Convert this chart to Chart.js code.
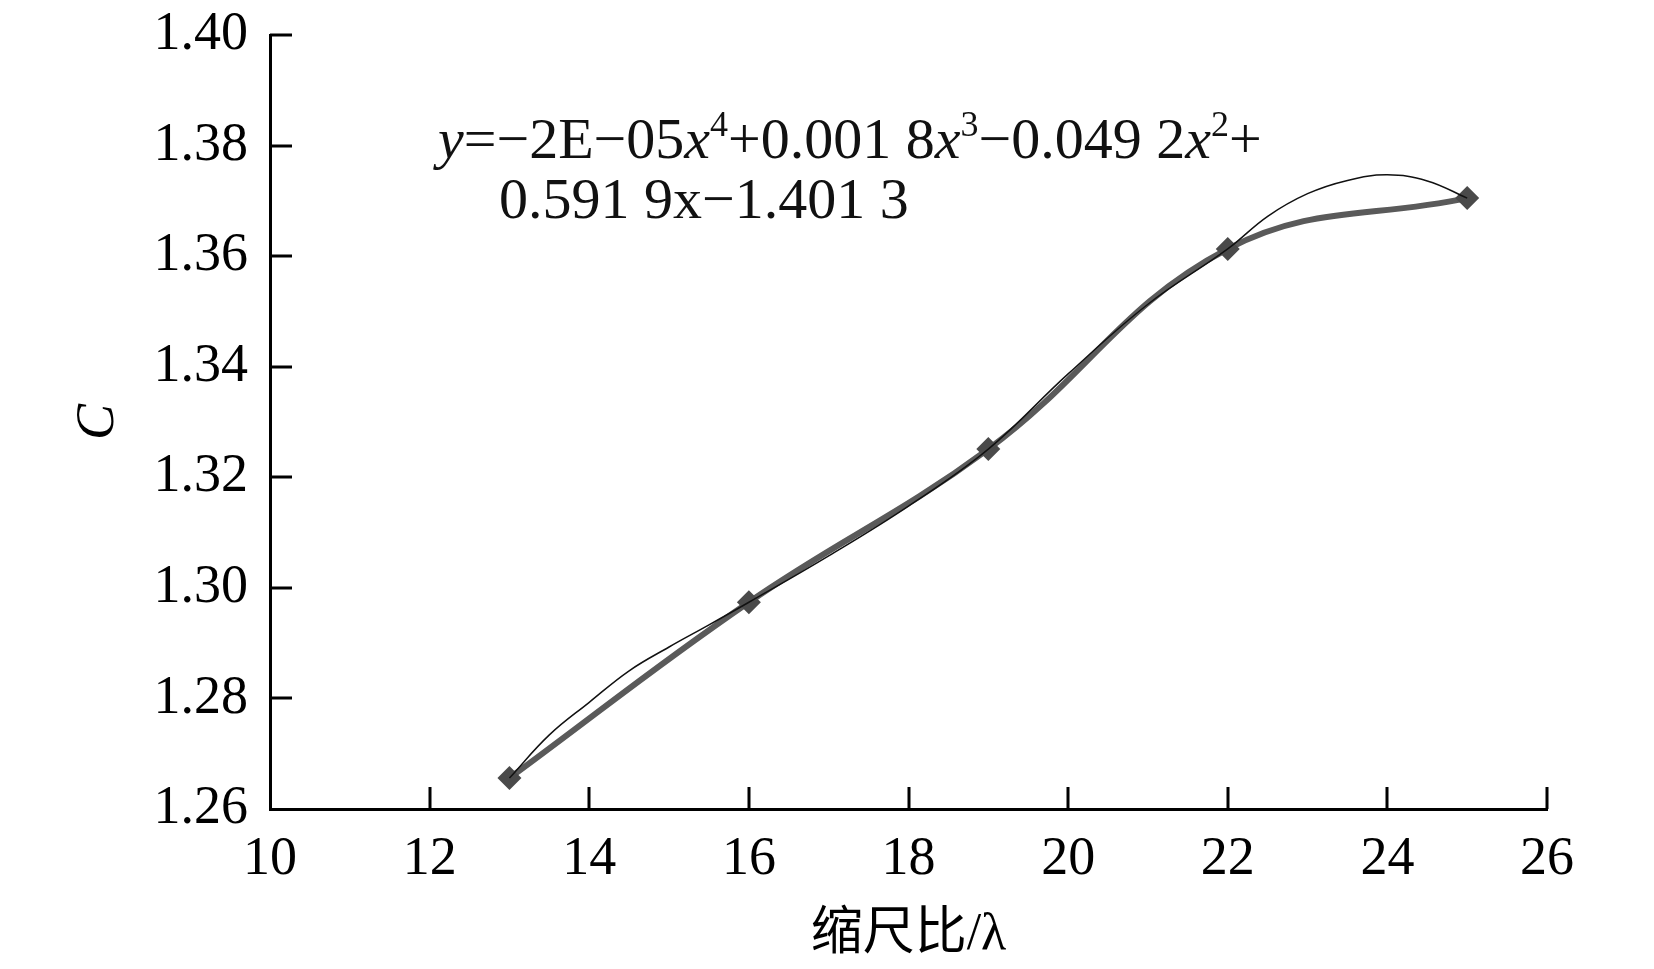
<!doctype html>
<html>

<head>
    <title>C vs scale ratio</title>
    <script src="https://cdn.jsdelivr.net/npm/chart.js@4/dist/chart.umd.min.js"></script>
    <style>
    body {
        margin: 0;
        background: #fff;
    }
    canvas {
        display: block;
    }
    </style>
</head>

<body>
    <canvas id="canvas" width="1654" height="969"></canvas>

    <script>
        // measured points
        var lambdaValues = [13, 16, 19, 22, 25];
        var cValues = [1.2656, 1.2974, 1.3251, 1.3613, 1.3705];

        // 4th order trend line
        var trendLambda = [13, 13.5, 14, 14.5, 15, 15.5, 16, 17, 18, 19, 20, 21, 22, 22.5, 23, 23.5, 24, 24.5, 25];
        var trendC = [1.2656, 1.2734, 1.2793, 1.2850, 1.2893, 1.2933, 1.2974, 1.3058, 1.3148, 1.3251, 1.3387, 1.3513, 1.3613, 1.3672, 1.3713, 1.3737, 1.3747, 1.3736, 1.3705];

        var xTicks = [10, 12, 14, 16, 18, 20, 22, 24, 26];
        var yTicks = [1.26, 1.28, 1.30, 1.32, 1.34, 1.36, 1.38, 1.40];

        var serif = "'Liberation Serif', 'Times New Roman', 'Noto Sans CJK SC', serif";

        function pairs(xs, ys) {
            return xs.map(function(x, i) { return {x: x, y: ys[i]}; });
        }

        // ticks point inward, drawn off the scales
        var inwardTicks = {
            id: 'inwardTicks',
            afterDatasetsDraw: function(chart) {
                var ctx = chart.ctx;
                var xs = chart.scales.x, ys = chart.scales.y;
                var area = chart.chartArea;
                ctx.save();
                ctx.strokeStyle = '#000';
                ctx.lineWidth = 3;
                ctx.beginPath();
                xs.ticks.forEach(function(t, i) {
                    var px = Math.round(xs.getPixelForTick(i));
                    if (i === 0) return;
                    ctx.moveTo(px, area.bottom);
                    ctx.lineTo(px, area.bottom - 22);
                });
                ys.ticks.forEach(function(t, i) {
                    var py = Math.round(ys.getPixelForTick(i));
                    if (i === 0) return;
                    ctx.moveTo(area.left, py);
                    ctx.lineTo(area.left + 22, py);
                });
                ctx.stroke();
                ctx.restore();
            }
        };

        // fitted equation text
        var equation = {
            id: 'equation',
            afterDraw: function(chart) {
                var ctx = chart.ctx;
                var area = chart.chartArea;
                var big = "58px " + serif;
                var bigI = "italic 58px " + serif;
                var sup = "36px " + serif;
                var line1 = [
                    ['y', bigI, 0], ['=\u2212', big, 0], ['2E\u221205', big, 0],
                    ['x', bigI, 0], ['4', sup, -22], ['+0.001 8', big, 0],
                    ['x', bigI, 0], ['3', sup, -22], ['\u22120.049 2', big, 0],
                    ['x', bigI, 0], ['2', sup, -22], ['+', big, 0]
                ];
                ctx.save();
                ctx.fillStyle = '#111';
                ctx.textBaseline = 'alphabetic';
                var x = area.left + 168;
                var y = area.top + 123;
                line1.forEach(function(s) {
                    ctx.font = s[1];
                    ctx.fillText(s[0], x, y + s[2]);
                    x += ctx.measureText(s[0]).width;
                });
                ctx.font = big;
                ctx.fillText('0.591 9x\u22121.401 3', area.left + 229, area.top + 183);
                ctx.restore();
            }
        };

        window.onload = function() {
            var ctx = document.getElementById('canvas').getContext('2d');
            window.myChart = new Chart(ctx, {
                type: 'scatter',
                data: {
                    datasets: [{
                        label: 'C',
                        data: pairs(lambdaValues, cValues),
                        showLine: true,
                        tension: 0.4,
                        borderColor: '#5a5a5a',
                        borderWidth: 6,
                        pointStyle: 'rectRot',
                        pointRadius: 12,
                        pointBackgroundColor: '#4a4a4a',
                        pointBorderColor: '#4a4a4a',
                        pointBorderWidth: 0,
                        order: 2
                    }, {
                        label: 'trend',
                        data: pairs(trendLambda, trendC),
                        showLine: true,
                        tension: 0.4,
                        borderColor: '#111',
                        borderWidth: 1.5,
                        pointRadius: 0,
                        order: 1
                    }]
                },
                options: {
                    responsive: false,
                    animation: false,
                    layout: {
                        padding: {left: 0, top: 35, right: 107, bottom: 0}
                    },
                    plugins: {
                        legend: {display: false},
                        tooltip: {enabled: false}
                    },
                    scales: {
                        x: {
                            type: 'linear',
                            min: 10,
                            max: 26,
                            afterBuildTicks: function(scale) {
                                scale.ticks = xTicks.map(function(v) { return {value: v}; });
                            },
                            afterFit: function(scale) {
                                scale.height = 160;
                                scale.paddingLeft = 0;
                                scale.paddingRight = 0;
                            },
                            grid: {display: false, drawTicks: false},
                            border: {display: true, color: '#000', width: 3},
                            ticks: {
                                padding: 18,
                                color: '#000',
                                maxRotation: 0,
                                font: {family: serif, size: 54}
                            },
                            title: {
                                display: true,
                                text: '缩尺比/λ',
                                color: '#000',
                                padding: {top: 0, bottom: 2},
                                font: {family: serif, size: 52}
                            }
                        },
                        y: {
                            min: 1.26,
                            max: 1.40,
                            afterBuildTicks: function(scale) {
                                scale.ticks = yTicks.map(function(v) { return {value: v}; });
                            },
                            afterFit: function(scale) {
                                scale.width = 270;
                                scale.paddingTop = 0;
                                scale.paddingBottom = 0;
                            },
                            grid: {display: false, drawTicks: false},
                            border: {display: true, color: '#000', width: 3},
                            ticks: {
                                padding: 22,
                                color: '#000',
                                font: {family: serif, size: 54},
                                callback: function(v) { return Number(v).toFixed(2); }
                            },
                            title: {
                                display: true,
                                text: 'C',
                                color: '#000',
                                padding: {top: 66, bottom: 0},
                                font: {family: serif, size: 54, style: 'italic'}
                            }
                        }
                    }
                },
                plugins: [inwardTicks, equation]
            });
        };
    </script>
</body>

</html>
